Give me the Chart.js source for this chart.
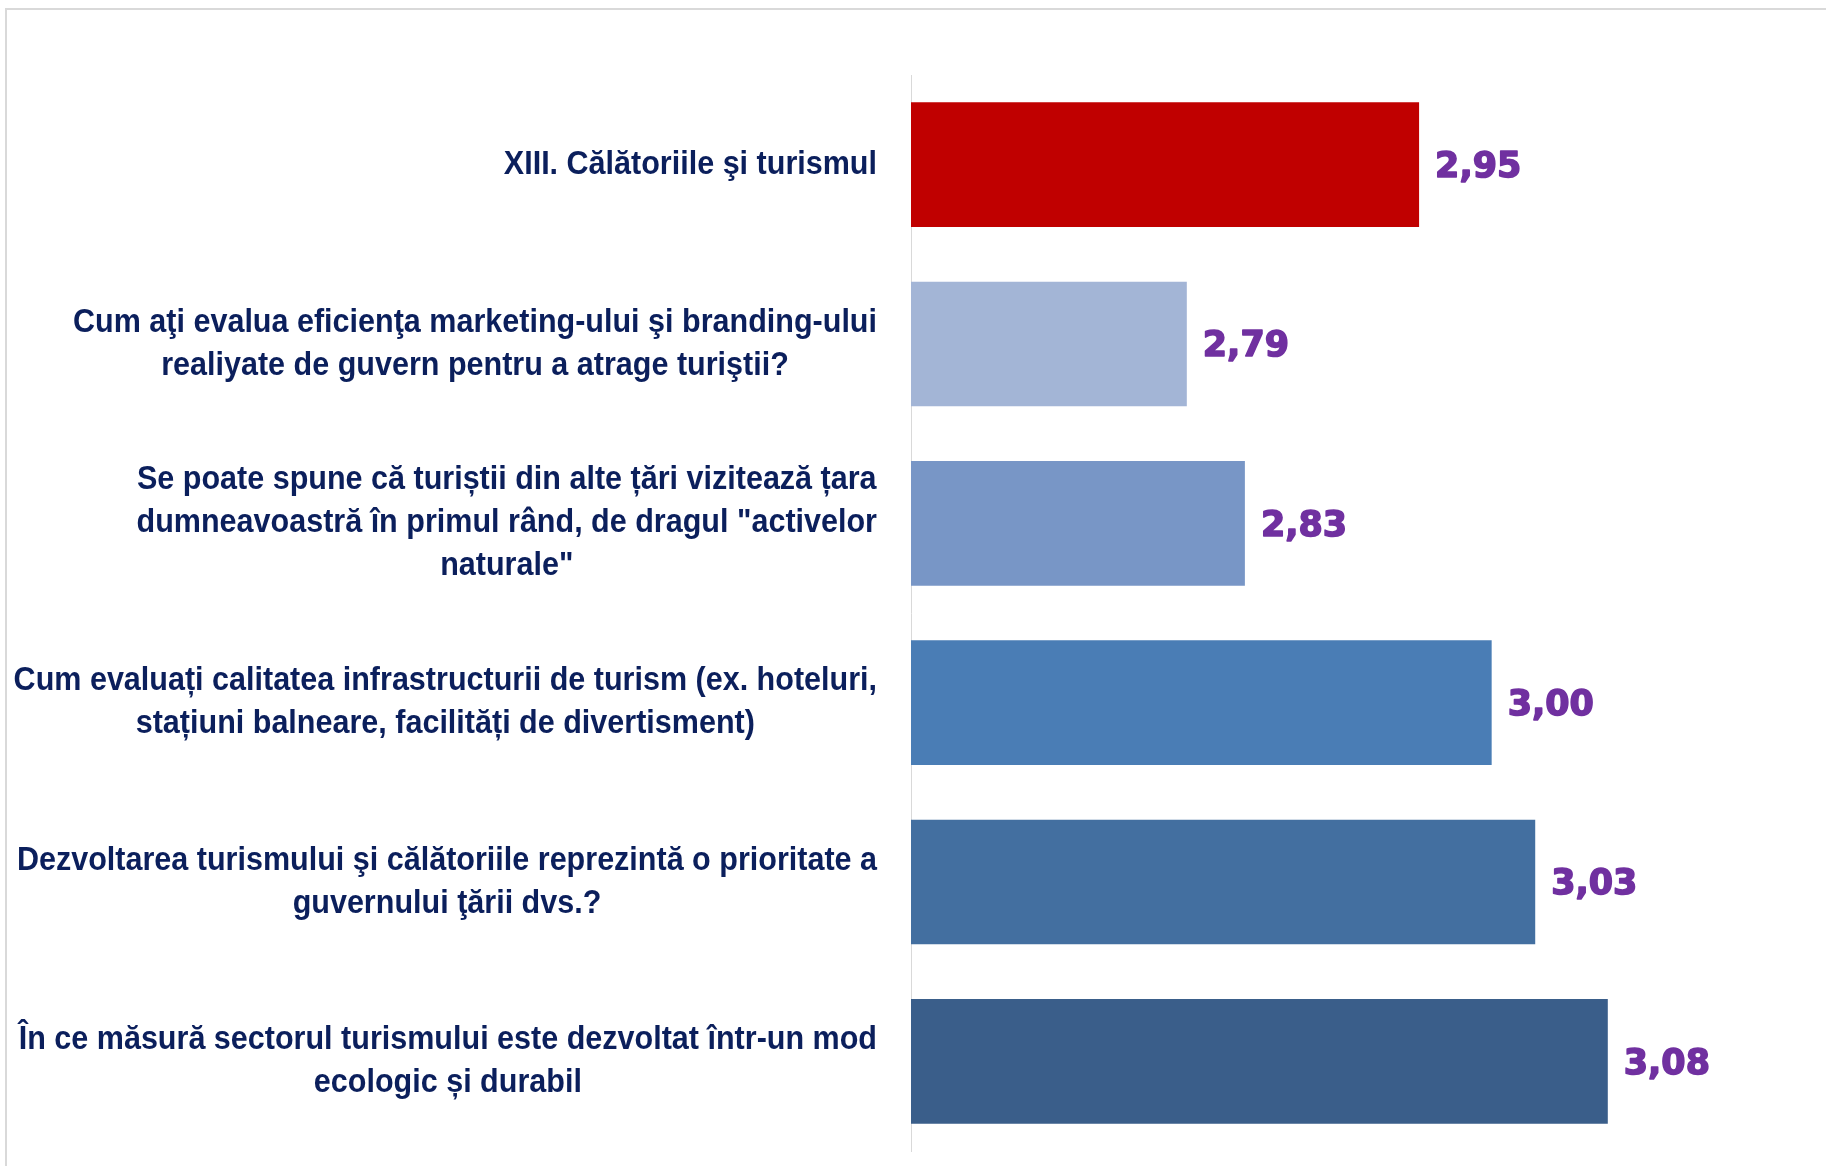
<!DOCTYPE html>
<html>
<head>
<meta charset="utf-8">
<script src="https://cdn.jsdelivr.net/npm/chart.js@4.4.1/dist/chart.umd.min.js"></script>
<style>
  html, body { margin: 0; padding: 0; background: #fff; overflow: hidden; }
  #frame {
    position: absolute; left: 5px; top: 8px;
    width: 1900px; height: 1300px;
    border-left: 2px solid #d9d9d9; border-top: 2px solid #d9d9d9;
  }
  #wrap { position: absolute; left: 0; top: 0; width: 1826px; height: 1166px; }
</style>
</head>
<body>
<div id="frame"></div>
<div id="wrap"><canvas id="myChart"></canvas></div>
<script>
// Intrebari (un rand pe linie)
const categorii = [
  ["XIII. Călătoriile şi turismul"],
  ["Cum aţi evalua eficienţa marketing-ului şi branding-ului", "realiyate de guvern pentru a atrage turiştii?"],
  ["Se poate spune că turiștii din alte țări vizitează țara", "dumneavoastră în primul rând, de dragul \"activelor", "naturale\""],
  ["Cum evaluați calitatea infrastructurii de turism (ex. hoteluri,", "stațiuni balneare, facilități de divertisment)"],
  ["Dezvoltarea turismului şi călătoriile reprezintă o prioritate a", "guvernului ţării dvs.?"],
  ["În ce măsură sectorul turismului este dezvoltat într-un mod", "ecologic și durabil"]
];
const scoruri = [2.95, 2.79, 2.83, 3.00, 3.03, 3.08];
const culori = ["#c00000", "#a3b5d6", "#7896c6", "#4a7db5", "#436fa0", "#3a5e8a"];
const axaMin = 2.6;
const axaMax = 3.2;

// etichete din stanga + valorile de la capatul barelor
const etichete = {
  id: "etichete",
  afterDatasetsDraw(chart) {
    const ctx = chart.ctx;
    const meta = chart.getDatasetMeta(0);
    const yScale = chart.scales.y;
    const dreapta = chart.chartArea.left - 34;
    const lineH = 43;
    const ingust = 0.925;

    ctx.save();
    ctx.textBaseline = "middle";
    ctx.fillStyle = "#0b1f5c";
    ctx.font = "bold 33px 'Liberation Sans', Arial, sans-serif";
    categorii.forEach(function(linii, i) {
      const yc = yScale.getPixelForTick(i);
      let lat = 0;
      linii.forEach(function(l) { lat = Math.max(lat, ctx.measureText(l).width * ingust); });
      const cx = dreapta - lat / 2;
      const y0 = yc - (linii.length - 1) * lineH / 2;
      linii.forEach(function(l, k) {
        ctx.save();
        ctx.translate(cx, y0 + k * lineH);
        ctx.scale(ingust, 1);
        ctx.textAlign = "center";
        ctx.fillText(l, 0, 0);
        ctx.restore();
      });
    });

    // valorile, putin ingrosate
    ctx.fillStyle = "#7030a0";
    ctx.strokeStyle = "#7030a0";
    ctx.lineWidth = 1.6;
    ctx.lineJoin = "round";
    ctx.font = "bold 36px 'DejaVu Sans', Verdana, sans-serif";
    meta.data.forEach(function(bar, i) {
      const txt = scoruri[i].toFixed(2).replace(".", ",");
      ctx.save();
      ctx.translate(bar.x + 16, bar.y + 3);
      ctx.scale(0.97, 1);
      ctx.textAlign = "left";
      ctx.fillText(txt, 0, 0);
      ctx.strokeText(txt, 0, 0);
      ctx.restore();
    });
    ctx.restore();
  }
};

const ctx = document.getElementById("myChart").getContext("2d");
const myChart = new Chart(ctx, {
  type: "bar",
  data: {
    labels: categorii,
    datasets: [{
      data: scoruri,
      backgroundColor: culori,
      borderWidth: 0,
      categoryPercentage: 0.695,
      barPercentage: 1
    }]
  },
  options: {
    indexAxis: "y",
    responsive: true,
    maintainAspectRatio: false,
    animation: false,
    layout: { padding: { left: 903, top: 75, right: 44, bottom: 15 } },
    plugins: { legend: { display: false }, tooltip: { enabled: false } },
    scales: {
      x: { display: false, min: axaMin, max: axaMax },
      y: {
        display: true,
        grid: { display: false },
        border: { display: true, color: "#d9d9d9", width: 1 },
        ticks: { display: false }
      }
    }
  },
  plugins: [etichete]
});
</script>
</body>
</html>
